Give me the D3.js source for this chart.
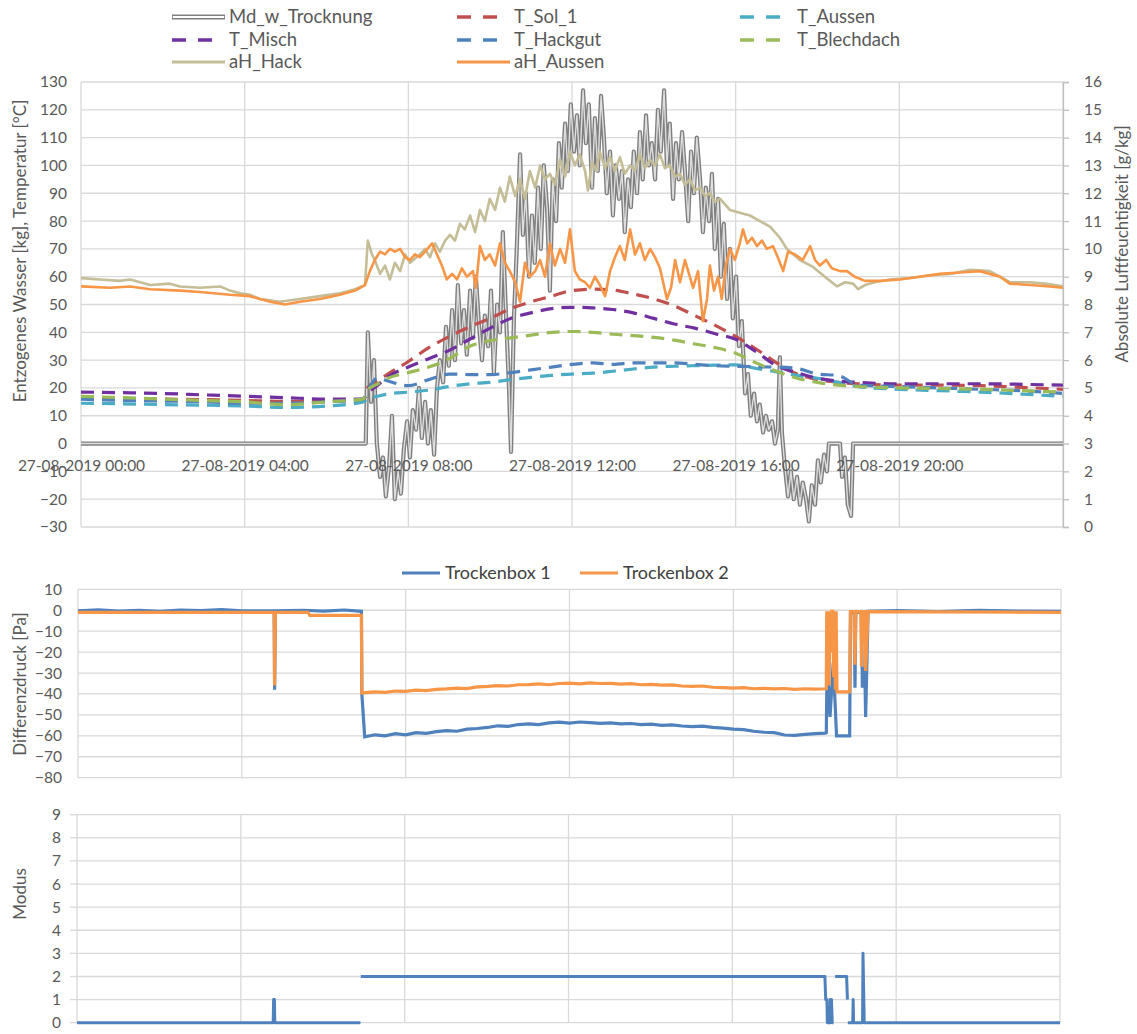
<!DOCTYPE html>
<html>
<head>
<meta charset="utf-8">
<script src="https://cdn.jsdelivr.net/npm/d3@7"></script>
<style>
  body { margin: 0; background: #fff; }
  svg { display: block; }
  text { font-family: Lato, "Open Sans", sans-serif; }
</style>
</head>
<body>
<svg id="chart" width="1137" height="1034"></svg>
<script>
// ---------- Drying run 27-08-2019: time in decimal hours ----------
const hourTicks = [0, 4, 8, 12, 16, 20, 24];
const dateLabel = "27-08-2019";

// Extracted water (kg), left axis
const mdTimes = [0, 6.96, 7.01, 7.09, 7.16, 7.23, 7.31, 7.38, 7.45, 7.53, 7.60, 7.67, 7.75, 7.82, 7.89, 7.97,
  8.04, 8.11, 8.19, 8.26, 8.33, 8.41, 8.48, 8.55, 8.63, 8.70, 8.77, 8.85, 8.92, 8.99, 9.07, 9.14, 9.21, 9.29,
  9.36, 9.43, 9.51, 9.58, 9.65, 9.73, 9.80, 9.87, 9.95, 10.02, 10.09, 10.17, 10.24, 10.31, 10.39, 10.46, 10.51,
  10.58, 10.65, 10.73, 10.80, 10.87, 10.95, 11.02, 11.09, 11.17, 11.24, 11.31, 11.39, 11.46, 11.53, 11.61,
  11.68, 11.75, 11.83, 11.90, 11.97, 12.05, 12.12, 12.19, 12.27, 12.34, 12.41, 12.49, 12.56, 12.63, 12.71,
  12.78, 12.85, 12.93, 13.00, 13.07, 13.15, 13.22, 13.29, 13.37, 13.44, 13.51, 13.59, 13.66, 13.73, 13.81,
  13.88, 13.95, 14.03, 14.10, 14.17, 14.25, 14.32, 14.39, 14.47, 14.54, 14.61, 14.69, 14.76, 14.84, 14.91,
  14.98, 15.05, 15.13, 15.20, 15.27, 15.35, 15.42, 15.49, 15.57, 15.64, 15.71, 15.79, 15.86, 15.93, 16.01,
  16.08, 16.15, 16.23, 16.30, 16.37, 16.45, 16.52, 16.59, 16.67, 16.74, 16.81, 16.89, 16.96, 17.03, 17.08,
  17.13, 17.20, 17.28, 17.35, 17.42, 17.50, 17.57, 17.64, 17.72, 17.79, 17.86, 17.94, 18.01, 18.08, 18.16,
  18.23, 18.28, 18.55, 18.60, 18.67, 18.74, 18.82, 18.87, 24];
const mdValues = [0, 0, 40, 15, 30, 0, -12, -5, -19, -8, 10, -20, -10, -18, -2, 8,
  -5, 12, 5, 20, 2, 15, 0, 12, -4, 20, 30, 22, 42, 28, 48, 30, 57, 36,
  48, 32, 55, 38, 60, 42, 30, 46, 35, 55, 25, 50, 40, 76, 45, 20, -3,
  45, 70, 104, 75, 90, 60, 82, 65, 92, 70, 100, 85, 55, 95, 80,
  108, 92, 115, 98, 122, 105, 118, 100, 127, 108, 122, 92, 117, 98, 125,
  110, 90, 105, 82, 100, 88, 98, 76, 95, 85, 105, 90, 112, 95, 118,
  100, 108, 95, 120, 105, 127, 100, 115, 88, 108, 95, 112, 98, 80, 105,
  90, 110, 95, 76, 92, 80, 97, 70, 88, 60, 79, 52, 70, 45, 60,
  35, 44, 18, 25, 10, 18, 8, 14, 4, 10, 5, 8, 0, 5, 31,
  4, -8, -19, -10, -20, -12, -22, -14, -20, -28, -15, -22, -6, -14, -4,
  -10, 0, 0, -12, -5, -22, -26, 0, 0];

// Temperatures (°C), left axis, shared sampling times
const tempTimes = [0, 1, 2, 3, 4, 5, 6, 6.9, 7, 7.25, 7.5, 8, 8.5, 9, 9.5, 10, 10.5, 11, 11.5, 12, 12.5,
  13, 13.5, 14, 14.5, 15, 15.5, 16, 16.5, 17, 17.5, 18, 18.5, 19, 20, 21, 22, 23, 24];
const tSol1 = [16.5, 16.3, 16, 15.8, 15.5, 15.2, 15.3, 15.8, 20, 22.5, 25, 29.5, 34.5, 38.5, 42, 45, 48.5, 51, 53, 55, 55.5,
  55.2, 53.8, 52, 49.5, 46, 42.5, 38.5, 34, 29, 25, 23, 22, 21.5, 21, 21, 20.8, 20.2, 19.5];
const tAussen = [14.5, 14.3, 14, 13.8, 13.5, 13, 13.5, 15, 16, 17, 17.8, 18.5, 19.2, 20.5, 21.5, 22, 23, 23.8, 24.5, 25, 25.3,
  26, 26.8, 27.5, 27.8, 28, 28.2, 28.3, 27, 25.8, 24.5, 23.5, 22, 20.5, 19.5, 19, 18.5, 17.8, 17];
const tMisch = [18.5, 18.3, 18, 17.5, 17, 16.5, 16, 16, 18, 21, 24, 27.5, 30.5, 33.5, 37.5, 41.5, 45, 47, 48.5, 49, 48.8,
  48.2, 47, 45, 43, 41.5, 39.5, 37.5, 33, 28, 25.5, 23.5, 22.5, 22, 21.5, 21.5, 21.5, 21.3, 21];
const tHackgut = [16, 15.5, 15.3, 15, 14.5, 14.5, 15, 16, 19, 23.5, 22.5, 20.8, 23, 25, 24.8, 24.8, 25.5, 26.5, 27.5, 28.5, 29,
  28.5, 29, 29, 29, 28.5, 28, 27.8, 27.6, 27.5, 27, 25, 24.5, 21, 20.5, 20, 19.5, 19, 18];
const tBlechdach = [17, 16.5, 16, 15.5, 15, 14, 15, 16, 19, 21.5, 23.5, 25.5, 27.5, 30.5, 35, 37, 38, 39, 40, 40.3, 40,
  39.3, 38.8, 38.2, 37.2, 35.8, 34.5, 32.5, 29, 26, 23.5, 22, 21, 20.5, 20, 19.8, 19.5, 19, 18.5];

// Absolute humidity (g/kg), right axis
const ahHackTimes = [0, 0.46, 0.95, 1.20, 1.69, 2.17, 2.42, 2.91, 3.40, 3.64, 3.89, 4.13, 4.37, 4.62, 4.86, 5.35,
  5.84, 6.33, 6.70, 6.94, 7.01, 7.11, 7.18, 7.31, 7.43, 7.55, 7.67, 7.80, 7.92, 8.04, 8.28, 8.41, 8.53, 8.65,
  8.77, 8.90, 9.02, 9.14, 9.26, 9.38, 9.51, 9.63, 9.75, 9.87, 9.99, 10.12, 10.24, 10.36, 10.48, 10.61, 10.73,
  10.85, 10.97, 11.10, 11.22, 11.34, 11.46, 11.58, 11.71, 11.83, 11.95, 12.07, 12.19, 12.32, 12.39, 12.49,
  12.59, 12.68, 12.81, 12.93, 13.05, 13.17, 13.29, 13.42, 13.54, 13.66, 13.78, 13.91, 14.03, 14.15, 14.27,
  14.39, 14.52, 14.64, 14.76, 14.88, 15.01, 15.13, 15.25, 15.37, 15.49, 15.62, 15.86, 16.10, 16.35, 16.59,
  16.84, 17.08, 17.25, 17.57, 17.89, 18.18, 18.48, 18.67, 18.87, 18.99, 19.16, 19.40, 19.77, 20.26, 20.75,
  21.24, 21.73, 22.21, 22.46, 22.70, 23.19, 23.56, 24];
const ahHack = [8.95, 8.90, 8.85, 8.90, 8.70, 8.75, 8.65, 8.60, 8.65, 8.50, 8.40, 8.35, 8.20, 8.15, 8.10, 8.20,
  8.30, 8.40, 8.55, 8.70, 10.30, 9.80, 9.60, 9.10, 9.40, 8.90, 9.50, 9.20, 9.80, 9.50, 9.80, 10.00, 9.70, 10.20,
  9.90, 10.30, 10.50, 10.30, 10.90, 10.70, 11.20, 10.60, 11.40, 11.00, 11.80, 11.40, 12.20, 11.70, 12.60, 11.90, 12.50,
  11.80, 12.80, 12.20, 13.00, 12.50, 12.70, 12.30, 13.20, 12.60, 13.50, 13.00, 13.40, 12.80, 12.10, 13.10,
  12.80, 13.50, 12.90, 13.30, 12.80, 13.30, 12.70, 13.00, 12.80, 13.40, 12.90, 13.20, 13.00, 13.40, 12.90,
  13.00, 12.60, 12.70, 12.30, 12.50, 12.10, 12.20, 11.90, 12.00, 11.70, 11.80, 11.40, 11.30, 11.20, 11.00,
  10.80, 10.40, 10.00, 9.60, 9.35, 9.00, 8.65, 8.80, 8.75, 8.55, 8.70, 8.80, 8.90, 8.95, 9.05,
  9.10, 9.25, 9.20, 9.00, 8.80, 8.80, 8.75, 8.65];

const ahAussenTimes = [0, 0.71, 1.20, 1.69, 2.42, 2.91, 3.64, 4.13, 4.62, 4.99, 5.35, 5.84, 6.33, 6.70, 6.94,
  7.06, 7.18, 7.31, 7.43, 7.55, 7.67, 7.80, 7.92, 8.04, 8.16, 8.28, 8.41, 8.58, 8.70, 8.82, 8.94, 9.07, 9.19,
  9.31, 9.43, 9.58, 9.65, 9.75, 9.87, 9.99, 10.12, 10.24, 10.36, 10.48, 10.61, 10.73, 10.85, 10.97, 11.10,
  11.22, 11.34, 11.46, 11.58, 11.71, 11.83, 11.95, 12.07, 12.19, 12.32, 12.44, 12.56, 12.68, 12.81, 12.93,
  13.05, 13.17, 13.29, 13.42, 13.54, 13.66, 13.78, 13.91, 14.03, 14.15, 14.32, 14.42, 14.52, 14.64, 14.76,
  14.88, 14.96, 15.08, 15.20, 15.30, 15.37, 15.47, 15.57, 15.66, 15.76, 15.86, 15.98, 16.10, 16.18, 16.28,
  16.40, 16.52, 16.64, 16.76, 16.91, 17.03, 17.16, 17.28, 17.45, 17.64, 17.82, 17.94, 18.06, 18.21, 18.35,
  18.55, 18.72, 18.91, 19.16, 19.53, 20.01, 20.50, 20.99, 21.48, 21.97, 22.46, 22.70, 23.19, 23.68, 24];
const ahAussen = [8.65, 8.60, 8.65, 8.55, 8.50, 8.45, 8.35, 8.30, 8.10, 8.00, 8.10, 8.20, 8.35, 8.50, 8.70,
  9.20, 9.60, 9.90, 9.80, 10.00, 9.90, 10.00, 9.70, 9.60, 9.80, 9.70, 9.90, 10.20, 9.80, 9.40, 8.90, 9.10, 8.90,
  9.30, 9.00, 9.20, 8.60, 10.10, 9.60, 9.80, 9.40, 10.20, 9.50, 9.20, 8.80, 8.10, 9.50, 9.00, 9.20,
  9.60, 9.00, 10.20, 9.40, 10.00, 9.50, 10.70, 9.20, 8.90, 8.80, 8.60, 9.00, 8.70, 8.30, 9.20,
  9.70, 10.10, 9.60, 10.70, 9.80, 10.20, 9.60, 10.00, 9.70, 9.30, 8.20, 8.60, 9.60, 8.80, 9.60,
  9.00, 8.60, 9.20, 7.40, 8.20, 9.40, 8.50, 9.00, 8.20, 9.40, 10.00, 9.60, 10.20, 10.70, 10.20,
  10.40, 10.10, 10.30, 10.00, 10.10, 9.70, 9.20, 9.90, 9.80, 9.60, 10.10, 9.60, 9.40, 9.60, 9.30,
  9.20, 9.20, 9.00, 8.85, 8.85, 8.90, 9.00, 9.10, 9.15, 9.20, 9.00, 8.75, 8.70, 8.65, 8.60];

// Differential pressure (Pa)
const box1Times = [0, 0.5, 1.0, 1.5, 2.0, 2.5, 3.0, 3.5, 4.0, 4.79, 4.80, 4.82, 5.5, 6.0, 6.5, 6.92, 6.93,
  7.0, 7.25, 7.5, 7.75, 8.0, 8.25, 8.5, 8.75, 9.0, 9.25, 9.5, 9.75, 10.0, 10.25, 10.5, 10.75, 11.0, 11.25,
  11.5, 11.75, 12.0, 12.25, 12.5, 12.75, 13.0, 13.25, 13.5, 13.75, 14.0, 14.25, 14.5, 14.75, 15.0, 15.25,
  15.5, 15.75, 16.0, 16.25, 16.5, 16.75, 17.0, 17.25, 17.5, 17.75, 18.0, 18.25, 18.27, 18.29, 18.36, 18.44,
  18.52, 18.84, 18.86, 18.95, 18.97, 18.99, 19.13, 19.15, 19.17, 19.21, 19.23, 19.29, 20, 21, 22, 23, 24];
const box1 = [-0.3, 0.2, -0.4, 0, -0.5, 0.1, -0.2, 0.3, -0.3, -0.3, -38, -0.3, 0, -0.4, 0.1, -0.5, -40,
  -60.5, -59.5, -60, -59, -59.5, -58.5, -58.8, -58, -57.5, -57.8, -56.8, -56.5, -56, -55.2, -55.5, -54.6, -54.3, -54.6,
  -53.8, -53.5, -53.9, -53.4, -53.7, -54, -53.8, -54.3, -54.1, -54.6, -54.4, -55, -54.8, -55.3, -55.6, -55.4,
  -56, -56.3, -56.8, -57, -57.8, -58.3, -58.5, -59.6, -59.8, -59.3, -58.9, -58.7, -58.5, -24, -51, -25,
  -60, -60, -1, -1, -37, -1, -1, -37, -28, -28, -51, -0.5, -0.2, -0.6, 0, -0.4, -0.5];
const box2Times = [0, 4.79, 4.80, 4.82, 5.62, 5.66, 6.92, 6.93, 7.25, 7.5, 7.75, 8.0, 8.25, 8.5, 8.75, 9.0,
  9.25, 9.5, 9.75, 10.0, 10.25, 10.5, 10.75, 11.0, 11.25, 11.5, 11.75, 12.0, 12.25, 12.5, 12.75, 13.0, 13.25,
  13.5, 13.75, 14.0, 14.25, 14.5, 14.75, 15.0, 15.25, 15.5, 15.75, 16.0, 16.25, 16.5, 16.75, 17.0, 17.25,
  17.5, 17.75, 18.0, 18.25, 18.27, 18.28, 18.30, 18.32, 18.34, 18.36, 18.38, 18.40, 18.43, 18.45, 18.47,
  18.49, 18.51, 18.53, 18.84, 18.86, 18.95, 18.97, 18.99, 19.11, 19.13, 19.15, 19.21, 19.23, 19.29, 24];
const box2 = [-1, -1, -36, -1, -1, -2.5, -2.5, -39.5, -39, -39.2, -38.6, -38.8, -38.2, -38.4, -37.8, -37.6,
  -37.2, -37.4, -36.6, -36.4, -36, -36.2, -35.6, -35.5, -35.2, -35.6, -35, -34.8, -35.2, -34.7, -35, -34.9, -35.3,
  -35.1, -35.6, -35.4, -35.8, -35.7, -36.2, -36.4, -36.2, -36.8, -37, -37.2, -37, -37.5, -37.3, -37.6, -37.4,
  -37.8, -37.5, -37.7, -37.5, -37.5, -0.5, -30, -0.5, -36, -0.5, -20, -0.5, -0.5, -32, -0.5,
  -38, -0.5, -39, -39, -0.7, -0.7, -26, -0.7, -0.7, -27, -0.7, -0.7, -29, -0.7, -1];

// Operating mode (null = no sample)
const modusTimes = [0, 4.79, 4.80, 4.82, 4.83, 6.92, 6.925, 6.93, 18.26, 18.28, 18.31, 18.32, 18.38, 18.39,
  18.40, 18.42, 18.44, 18.47, 18.49, 18.51, 18.79, 18.81, 18.815, 18.82, 18.94, 18.95, 18.96, 19.18, 19.19,
  19.22, 24];
const modus = [0, 0, 1, 1, 0, 0, null, 2, 2, 1, 1, 0, 0, 1,
  0, 1, 0, 0, null, 2, 2, 1, null, 0, 0, 1, 0, 0, 3,
  0, 0];

// ---------- drawing ----------
const svg = d3.select("#chart");
const GRID = "#d9d9d9", TXT = "#595959";
svg.append("rect").attr("width", 1137).attr("height", 1034).attr("fill", "#fff");

const lineGen = (xs, ys) => d3.line()
  .defined(d => d[1] !== null)
  .x(d => xs(d[0])).y(d => ys(d[1]));
const zip = (a, b) => a.map((t, i) => [t, b[i]]);

function grid(g, xs, ys, yVals) {
  const [x0, x1] = xs.range(), [yb, yt] = ys.range();
  g.append("g").selectAll("line").data(yVals).join("line")
    .attr("x1", x0).attr("x2", x1).attr("y1", d => ys(d)).attr("y2", d => ys(d))
    .attr("stroke", GRID).attr("stroke-width", 1.3);
  g.append("g").selectAll("line").data(hourTicks).join("line")
    .attr("x1", d => xs(d)).attr("x2", d => xs(d)).attr("y1", yt).attr("y2", yb)
    .attr("stroke", GRID).attr("stroke-width", 1.3);
}
function leftLabels(g, xs, ys, vals, pad) {
  const ax = g.append("g").attr("transform", `translate(${xs.range()[0]},0)`)
    .call(d3.axisLeft(ys).tickValues(vals).tickSize(0).tickPadding(pad));
  ax.select(".domain").remove();
  ax.selectAll("text").attr("fill", TXT).style("font-size", "15.5px").style("font-family", "Lato");
  return ax;
}
function yTitle(text, x, y) {
  svg.append("text").attr("transform", `translate(${x},${y}) rotate(-90)`)
    .attr("text-anchor", "middle").attr("dy", "0.35em").attr("fill", TXT).style("font-size", "17px").text(text);
}

// ===== Panel 1: water, temperatures, humidity =====
const x1 = d3.scaleLinear().domain([0, 24]).range([81, 1063]);
const yL = d3.scaleLinear().domain([-30, 130]).range([527, 82]);
const yR = d3.scaleLinear().domain([0, 16]).range([527, 82]);
const p1 = svg.append("g");
grid(p1, x1, yL, d3.range(-30, 131, 10));
svg.append("clipPath").attr("id", "clip1").append("rect")
  .attr("x", 81).attr("y", 75).attr("width", 982).attr("height", 460);

const lines1 = p1.append("g").attr("clip-path", "url(#clip1)");
// Md_w_Trocknung as a double (compound) line
lines1.append("path").datum(zip(mdTimes, mdValues)).attr("d", lineGen(x1, yL))
  .attr("fill", "none").attr("stroke", "#7f7f7f").attr("stroke-width", 4.2).attr("stroke-linejoin", "round");
lines1.append("path").datum(zip(mdTimes, mdValues)).attr("d", lineGen(x1, yL))
  .attr("fill", "none").attr("stroke", "#dedede").attr("stroke-width", 1.4).attr("stroke-linejoin", "round");

const dash = "13,8";
const tempSeries = [
  { name: "T_Sol_1", vals: tSol1, color: "#c0504d" },
  { name: "T_Aussen", vals: tAussen, color: "#4bacc6" },
  { name: "T_Misch", vals: tMisch, color: "#7030a0" },
  { name: "T_Hackgut", vals: tHackgut, color: "#4f81bd" },
  { name: "T_Blechdach", vals: tBlechdach, color: "#9bbb59" }
];
tempSeries.forEach(s => {
  lines1.append("path").datum(zip(tempTimes, s.vals)).attr("d", lineGen(x1, yL).curve(d3.curveMonotoneX))
    .attr("fill", "none").attr("stroke", s.color).attr("stroke-width", 3.2).attr("stroke-dasharray", dash);
});
lines1.append("path").datum(zip(ahHackTimes, ahHack)).attr("d", lineGen(x1, yR))
  .attr("fill", "none").attr("stroke", "#c4bd97").attr("stroke-width", 2.6).attr("stroke-linejoin", "round");
lines1.append("path").datum(zip(ahAussenTimes, ahAussen)).attr("d", lineGen(x1, yR))
  .attr("fill", "none").attr("stroke", "#f79646").attr("stroke-width", 2.6).attr("stroke-linejoin", "round");

leftLabels(p1, x1, yL, d3.range(-30, 131, 10), 14);
const rAx = p1.append("g").attr("transform", `translate(${x1(24)},0)`)
  .call(d3.axisRight(yR).tickValues(d3.range(0, 17, 1)).tickSize(6).tickPadding(15));
rAx.select(".domain").attr("stroke", "#bfbfbf").attr("stroke-width", 1.3);
rAx.selectAll("line").attr("stroke", "#bfbfbf").attr("stroke-width", 1.3);
rAx.selectAll("text").attr("fill", TXT).style("font-size", "15.5px").style("font-family", "Lato");

// time labels along the zero line
const xAx = p1.append("g").attr("transform", `translate(0,${yL(0)})`)
  .call(d3.axisBottom(x1).tickValues(hourTicks.slice(0, 6)).tickSize(0).tickPadding(16)
    .tickFormat(h => `${dateLabel} ${String(h).padStart(2, "0")}:00`));
xAx.select(".domain").remove();
xAx.selectAll("text").attr("fill", TXT).style("font-size", "15.5px").style("font-family", "Lato");

yTitle("Entzogenes Wasser [kg], Temperatur [°C]", 20, 251);
yTitle("Absolute Luftfeuchtigkeit [g/kg]", 1122, 244);

// legend of panel 1
const legendItems = [
  { name: "Md_w_Trocknung", kind: "double", color: "#7f7f7f" },
  { name: "T_Sol_1", kind: "dash", color: "#c0504d" },
  { name: "T_Aussen", kind: "dash", color: "#4bacc6" },
  { name: "T_Misch", kind: "dash", color: "#7030a0" },
  { name: "T_Hackgut", kind: "dash", color: "#4f81bd" },
  { name: "T_Blechdach", kind: "dash", color: "#9bbb59" },
  { name: "aH_Hack", kind: "solid", color: "#c4bd97" },
  { name: "aH_Aussen", kind: "solid", color: "#f79646" }
];
const legX = [172, 457, 740], legY = [17, 40, 62];
const leg = svg.append("g");
legendItems.forEach((it, i) => {
  const lx = legX[i % 3], ly = legY[Math.floor(i / 3)];
  const g = leg.append("g").attr("transform", `translate(${lx},${ly})`);
  if (it.kind === "double") {
    g.append("line").attr("x1", 0).attr("x2", 53).attr("stroke", it.color).attr("stroke-width", 5);
    g.append("line").attr("x1", 0.8).attr("x2", 52.2).attr("stroke", "#fff").attr("stroke-width", 2);
  } else if (it.kind === "dash") {
    g.append("line").attr("x1", 0).attr("x2", 40).attr("stroke", it.color).attr("stroke-width", 3.5)
      .attr("stroke-dasharray", "14,12");
  } else {
    g.append("line").attr("x1", 0).attr("x2", 53).attr("stroke", it.color).attr("stroke-width", 3);
  }
  g.append("text").attr("x", 57).attr("y", 0).attr("dy", "0.35em").attr("fill", TXT)
    .style("font-size", "18.5px").text(it.name);
});

// ===== Panel 2: differential pressure =====
const x2 = d3.scaleLinear().domain([0, 24]).range([78, 1061]);
const y2 = d3.scaleLinear().domain([-80, 10]).range([777.7, 589.3]);
const p2 = svg.append("g");
grid(p2, x2, y2, d3.range(-80, 11, 10));
svg.append("clipPath").attr("id", "clip2").append("rect")
  .attr("x", 78).attr("y", 585).attr("width", 983).attr("height", 196);
const lines2 = p2.append("g").attr("clip-path", "url(#clip2)");
lines2.append("path").datum(zip(box1Times, box1)).attr("d", lineGen(x2, y2))
  .attr("fill", "none").attr("stroke", "#4f81bd").attr("stroke-width", 3.2);
lines2.append("path").datum(zip(box2Times, box2)).attr("d", lineGen(x2, y2))
  .attr("fill", "none").attr("stroke", "#f79646").attr("stroke-width", 3.2);
leftLabels(p2, x2, y2, d3.range(-80, 11, 10), 16);
yTitle("Differenzdruck [Pa]", 20, 684);

const leg2 = [{ name: "Trockenbox 1", color: "#4f81bd", x: 402 }, { name: "Trockenbox 2", color: "#f79646", x: 580 }];
leg2.forEach(it => {
  const g = svg.append("g").attr("transform", `translate(${it.x},573)`);
  g.append("line").attr("x1", 0).attr("x2", 38).attr("stroke", it.color).attr("stroke-width", 3);
  g.append("text").attr("x", 43).attr("dy", "0.35em").attr("fill", "#404040")
    .style("font-size", "18px").text(it.name);
});

// ===== Panel 3: operating mode =====
const x3 = d3.scaleLinear().domain([0, 24]).range([77, 1060]);
const y3 = d3.scaleLinear().domain([0, 9]).range([1022.7, 814.7]);
const p3 = svg.append("g");
grid(p3, x3, y3, d3.range(0, 10, 1));
p3.append("g").selectAll("line").data(d3.range(0, 10, 1)).join("line")
  .attr("x1", 70).attr("x2", 77).attr("y1", d => y3(d)).attr("y2", d => y3(d))
  .attr("stroke", GRID).attr("stroke-width", 1.3);
p3.append("path").datum(zip(modusTimes, modus)).attr("d", lineGen(x3, y3))
  .attr("fill", "none").attr("stroke", "#4f81bd").attr("stroke-width", 3).attr("stroke-linejoin", "round");
leftLabels(p3, x3, y3, d3.range(0, 10, 1), 16);
yTitle("Modus", 20, 894);
</script>
</body>
</html>
